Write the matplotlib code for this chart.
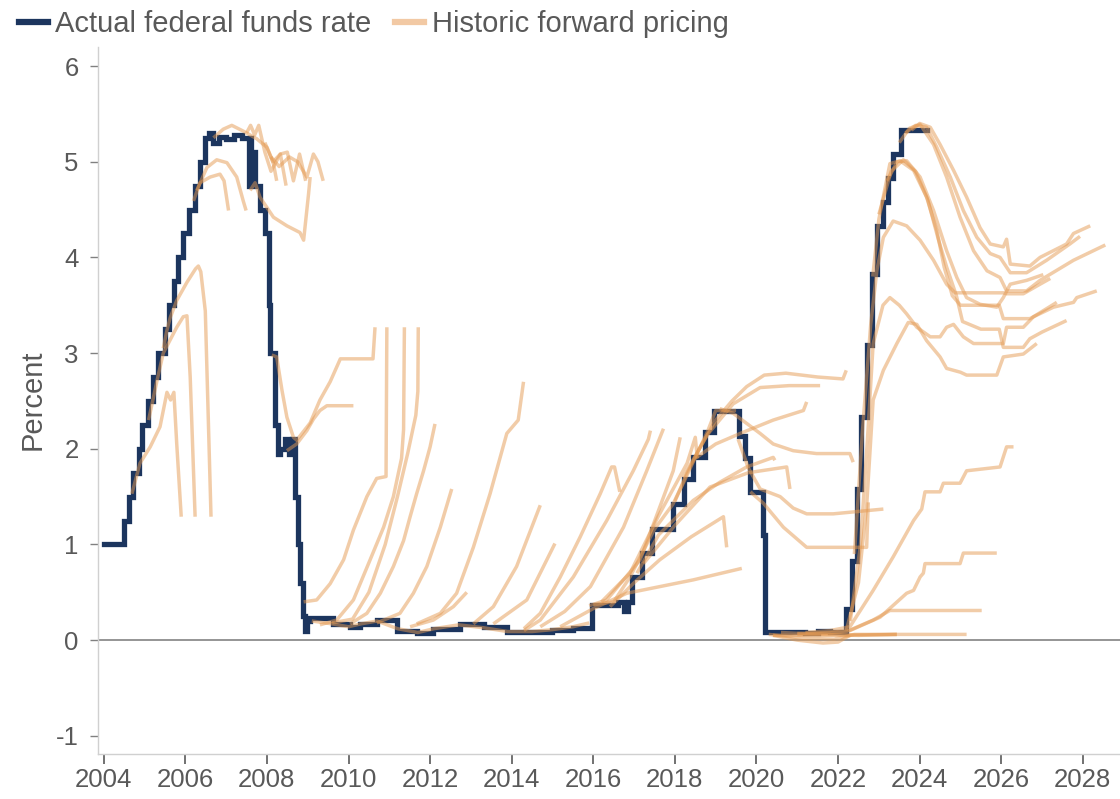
import matplotlib
matplotlib.use("Agg")
import matplotlib.pyplot as plt
from matplotlib.lines import Line2D

plt.rcParams['font.family'] = ['Liberation Sans', 'DejaVu Sans']

# ---------------- data ----------------
# Actual (effective) federal funds rate, decimal year -> percent (step series)
fed_dates = [2004.0, 2004.49, 2004.61, 2004.72, 2004.86, 2004.95, 2005.09, 2005.22, 2005.34,
             2005.49, 2005.61, 2005.72, 2005.83, 2005.95, 2006.08, 2006.24, 2006.36, 2006.49,
             2006.58, 2006.68, 2006.82, 2007.0, 2007.2, 2007.4, 2007.55, 2007.58, 2007.62,
             2007.66, 2007.71, 2007.83, 2007.95, 2008.06, 2008.08, 2008.21, 2008.26, 2008.33,
             2008.45, 2008.55, 2008.62, 2008.70, 2008.76, 2008.82, 2008.88, 2008.94, 2008.98,
             2009.06, 2009.63, 2010.04, 2010.28, 2010.69, 2011.18, 2011.67, 2012.08, 2012.74,
             2013.31, 2013.88, 2014.53, 2015.0, 2015.5, 2015.96, 2016.6, 2016.75, 2016.85,
             2016.95, 2017.2, 2017.45, 2017.95, 2018.22, 2018.45, 2018.74, 2018.97, 2019.58,
             2019.72, 2019.83, 2020.17, 2020.21, 2020.5, 2020.9, 2021.2, 2021.5, 2021.8,
             2022.19, 2022.34, 2022.46, 2022.57, 2022.72, 2022.84, 2022.95, 2023.09, 2023.22,
             2023.34, 2023.55, 2024.19]
fed_rates = [1.00, 1.25, 1.50, 1.75, 2.00, 2.25, 2.50, 2.75, 3.00,
             3.25, 3.50, 3.75, 4.00, 4.25, 4.50, 4.75, 5.00, 5.25,
             5.30, 5.20, 5.26, 5.24, 5.28, 5.25, 4.75, 5.25, 4.90,
             5.10, 4.75, 4.50, 4.25, 3.50, 3.00, 2.25, 1.95, 2.00,
             2.10, 1.95, 2.10, 1.50, 1.00, 0.60, 0.25, 0.10, 0.20,
             0.23, 0.17, 0.14, 0.17, 0.21, 0.10, 0.07, 0.12, 0.17,
             0.14, 0.09, 0.09, 0.11, 0.13, 0.37, 0.40, 0.30, 0.40,
             0.66, 0.91, 1.16, 1.42, 1.68, 1.91, 2.18, 2.40, 2.13,
             1.90, 1.55, 1.10, 0.08, 0.09, 0.09, 0.07, 0.10, 0.08,
             0.33, 0.83, 1.58, 2.33, 3.08, 3.83, 4.33, 4.58, 4.83,
             5.08, 5.33, 5.33]

# Historic forward-pricing curves (decimal year, percent)
fwd_2004 = [(2004.69, 1.53), (2004.89, 1.85), (2005.14, 2.02), (2005.38, 2.23), (2005.55, 2.59),
            (2005.64, 2.51), (2005.72, 2.59), (2005.79, 2.05), (2005.90, 1.29)]
fwd_2005a = [(2005.10, 2.30), (2005.30, 2.70), (2005.46, 3.00), (2005.79, 3.27), (2005.95, 3.38),
             (2006.04, 3.39), (2006.12, 2.75), (2006.24, 1.29)]
fwd_2005b = [(2005.46, 3.05), (2005.55, 3.24), (2005.63, 3.37), (2005.79, 3.55), (2006.04, 3.74),
             (2006.25, 3.88), (2006.32, 3.91), (2006.38, 3.85), (2006.49, 3.44), (2006.63, 1.29)]
fwd_2006a = [(2006.20, 4.59), (2006.36, 4.78), (2006.61, 4.84), (2006.85, 4.87), (2006.95, 4.80),
             (2007.06, 4.49)]
fwd_2006b = [(2006.28, 4.70), (2006.53, 4.94), (2006.77, 5.02), (2007.02, 4.99), (2007.26, 4.84),
             (2007.42, 4.59), (2007.49, 4.49)]
fwd_2006c = [(2006.69, 5.25), (2006.93, 5.34), (2007.14, 5.38), (2007.42, 5.32), (2007.75, 5.24),
             (2008.00, 5.15), (2008.16, 4.98), (2008.24, 4.80)]
fwd_2007a = [(2007.50, 5.30), (2007.60, 5.38), (2007.70, 5.28), (2007.80, 5.38), (2007.95, 5.10),
             (2008.10, 4.90), (2008.33, 5.08), (2008.47, 4.75)]
fwd_2007b = [(2007.95, 5.20), (2008.15, 5.00), (2008.33, 5.08), (2008.50, 5.10), (2008.65, 4.80),
             (2008.80, 5.08), (2008.95, 4.80)]
fwd_2007c = [(2008.10, 5.05), (2008.30, 4.95), (2008.55, 5.05), (2008.75, 5.00), (2008.98, 4.84),
             (2009.14, 5.08), (2009.25, 5.00), (2009.38, 4.80)]
fwd_2007d = [(2007.59, 4.70), (2007.71, 4.78), (2007.83, 4.63), (2008.16, 4.42), (2008.49, 4.33),
             (2008.81, 4.26), (2008.90, 4.18), (2009.02, 4.66), (2009.06, 4.84)]
fwd_2008a = [(2008.12, 2.98), (2008.24, 2.96), (2008.37, 2.61), (2008.49, 2.33), (2008.65, 2.12),
             (2008.73, 2.09), (2009.06, 2.27), (2009.30, 2.51), (2009.55, 2.70), (2009.80, 2.94),
             (2010.60, 2.94), (2010.65, 3.27)]
fwd_2008b = [(2008.49, 1.98), (2008.73, 2.05), (2008.98, 2.19), (2009.14, 2.31), (2009.30, 2.40),
             (2009.47, 2.45), (2010.12, 2.45)]
fwd_2008c = [(2008.90, 0.40), (2009.22, 0.42), (2009.55, 0.59), (2009.88, 0.84), (2010.12, 1.15),
             (2010.45, 1.50), (2010.69, 1.69), (2010.92, 1.71), (2010.94, 3.27)]
fwd_2009a = [(2009.30, 0.16), (2009.71, 0.21), (2010.12, 0.42), (2010.53, 0.84), (2010.86, 1.18),
             (2011.10, 1.50), (2011.30, 1.90), (2011.35, 2.20), (2011.37, 3.27)]
fwd_2009b = [(2009.60, 0.18), (2010.10, 0.22), (2010.50, 0.50), (2010.90, 1.00), (2011.20, 1.50),
             (2011.45, 1.95), (2011.65, 2.35), (2011.70, 2.60), (2011.71, 3.27)]
fwd_2009c = [(2009.10, 0.20), (2009.60, 0.17), (2010.00, 0.14), (2010.30, 0.17), (2010.70, 0.20),
             (2011.20, 0.12), (2011.70, 0.08), (2012.10, 0.12), (2012.70, 0.16), (2013.30, 0.13),
             (2013.90, 0.09), (2014.50, 0.09), (2015.00, 0.11), (2015.50, 0.14), (2015.90, 0.18)]
fwd_2010a = [(2010.04, 0.17), (2010.45, 0.28), (2010.78, 0.49), (2011.10, 0.77), (2011.35, 1.04),
             (2011.51, 1.29), (2011.67, 1.53), (2011.84, 1.77), (2012.00, 2.02), (2012.12, 2.26)]
fwd_2010b = [(2010.69, 0.18), (2011.26, 0.28), (2011.59, 0.49), (2011.92, 0.77), (2012.25, 1.18),
             (2012.53, 1.58)]
fwd_2011a = [(2011.51, 0.14), (2012.08, 0.21), (2012.57, 0.35), (2012.90, 0.50)]
fwd_2011b = [(2011.67, 0.17), (2012.25, 0.28), (2012.65, 0.49), (2013.06, 0.97), (2013.47, 1.53),
             (2013.88, 2.16), (2014.16, 2.30), (2014.29, 2.70)]
fwd_2013a = [(2013.06, 0.17), (2013.55, 0.35), (2014.12, 0.77), (2014.70, 1.41)]
fwd_2013b = [(2013.55, 0.17), (2014.37, 0.42), (2015.06, 1.01)]
fwd_2014a = [(2014.30, 0.12), (2014.70, 0.28), (2015.19, 0.66), (2015.68, 1.08), (2016.17, 1.53),
             (2016.45, 1.81), (2016.52, 1.81), (2016.65, 1.55)]
fwd_2014b = [(2014.30, 0.10), (2014.70, 0.21), (2015.51, 0.66), (2016.33, 1.25), (2016.98, 1.77),
             (2017.35, 2.10), (2017.40, 2.19)]
fwd_2014c = [(2014.70, 0.14), (2015.30, 0.30), (2015.93, 0.56), (2016.74, 1.18), (2017.31, 1.77),
             (2017.72, 2.21)]
fwd_2015a = [(2015.19, 0.14), (2016.00, 0.33), (2016.82, 0.49), (2018.45, 0.63), (2019.64, 0.75)]
fwd_2015b = [(2015.90, 0.36), (2016.33, 0.42), (2017.15, 0.84), (2017.96, 1.77), (2018.13, 2.12)]
fwd_2016a = [(2016.20, 0.40), (2016.90, 0.70), (2017.60, 1.30), (2018.30, 1.85), (2018.50, 2.12),
             (2018.55, 1.90)]
fwd_2016b = [(2016.41, 0.35), (2017.00, 0.60), (2017.63, 0.84), (2018.40, 1.08), (2019.19, 1.29),
             (2019.27, 0.97)]
fwd_2016c = [(2016.00, 0.37), (2016.50, 0.40), (2016.90, 0.66), (2017.20, 0.91), (2017.50, 1.16),
             (2017.95, 1.42), (2018.25, 1.68), (2018.50, 1.91), (2018.80, 2.18), (2019.00, 2.40),
             (2019.50, 2.40)]
fwd_2017a = [(2017.07, 0.70), (2017.60, 1.10), (2018.45, 1.46), (2019.10, 1.65), (2019.76, 1.81),
             (2020.41, 1.91), (2020.45, 1.88)]
fwd_2017b = [(2017.23, 0.80), (2018.00, 1.20), (2018.86, 1.60), (2019.80, 1.75), (2020.74, 1.81),
             (2020.82, 1.58)]
fwd_2018a = [(2018.00, 1.45), (2018.30, 1.75), (2018.60, 2.00), (2019.00, 2.30), (2019.40, 2.50),
             (2019.76, 2.65), (2020.19, 2.77), (2020.72, 2.79), (2021.50, 2.75), (2022.12, 2.73),
             (2022.20, 2.82)]
fwd_2018b = [(2018.20, 1.70), (2018.80, 2.15), (2019.43, 2.47), (2020.09, 2.64), (2020.80, 2.66),
             (2021.56, 2.66)]
fwd_2018c = [(2018.50, 1.90), (2019.00, 2.05), (2019.60, 2.16), (2020.41, 2.30), (2021.15, 2.40),
             (2021.23, 2.49)]
fwd_2019a = [(2019.10, 2.42), (2019.43, 2.37), (2020.09, 2.16), (2020.41, 2.05), (2020.90, 1.98),
             (2021.47, 1.95), (2022.29, 1.95), (2022.37, 1.86)]
fwd_2019b = [(2019.55, 2.10), (2019.80, 1.80), (2020.09, 1.58), (2020.58, 1.50), (2020.90, 1.38),
             (2021.23, 1.32), (2021.88, 1.32), (2023.11, 1.37)]
fwd_2019c = [(2019.85, 1.55), (2020.17, 1.43), (2020.66, 1.18), (2021.23, 0.97), (2022.05, 0.97),
             (2022.70, 0.97), (2022.74, 1.44)]
fwd_2020a = [(2020.41, 0.05), (2021.00, 0.00), (2021.63, -0.03), (2022.00, -0.02), (2022.29, 0.05)]
fwd_2020b = [(2020.40, 0.05), (2021.50, 0.05), (2023.44, 0.06), (2025.15, 0.06)]
fwd_2020c = [(2020.60, 0.08), (2021.50, 0.06), (2022.50, 0.05), (2023.44, 0.06)]
fwd_2020d = [(2020.30, 0.06), (2021.20, 0.02), (2021.90, 0.01), (2022.40, 0.06), (2023.44, 0.06)]
fwd_2021a = [(2021.00, 0.06), (2021.80, 0.07), (2022.21, 0.09), (2022.86, 0.21), (2023.27, 0.31),
             (2025.52, 0.31)]
fwd_2021b = [(2021.00, 0.07), (2021.80, 0.08), (2022.29, 0.10), (2023.03, 0.24), (2023.68, 0.49),
             (2023.85, 0.52), (2024.01, 0.66), (2024.09, 0.70), (2024.13, 0.80), (2024.99, 0.80),
             (2025.07, 0.91), (2025.89, 0.91)]
fwd_2021c = [(2021.20, 0.08), (2021.80, 0.10), (2022.29, 0.14), (2022.86, 0.52), (2023.35, 0.87),
             (2023.85, 1.25), (2024.05, 1.37), (2024.13, 1.55), (2024.50, 1.55), (2024.58, 1.64),
             (2024.99, 1.64), (2025.15, 1.77), (2025.97, 1.81), (2026.13, 2.02), (2026.30, 2.02)]
fwd_2022a = [(2022.20, 0.10), (2022.50, 0.60), (2022.70, 1.40), (2022.86, 2.51), (2023.11, 2.82),
             (2023.44, 3.10), (2023.72, 3.32), (2023.93, 3.30), (2024.17, 3.13), (2024.50, 2.96),
             (2024.66, 2.84), (2025.00, 2.80), (2025.15, 2.77), (2025.89, 2.77), (2026.05, 2.96),
             (2026.54, 2.99), (2026.87, 3.10)]
fwd_2022b = [(2022.30, 0.20), (2022.55, 1.00), (2022.72, 2.10), (2022.86, 3.10), (2023.10, 3.50),
             (2023.27, 3.58), (2023.50, 3.50), (2023.68, 3.41), (2023.93, 3.27), (2024.26, 3.17),
             (2024.50, 3.17), (2024.66, 3.27), (2024.83, 3.30), (2025.07, 3.17), (2025.32, 3.10),
             (2026.05, 3.10), (2026.13, 3.27), (2026.54, 3.27), (2026.79, 3.38), (2027.36, 3.53)]
fwd_2022c = [(2022.40, 0.90), (2022.60, 2.20), (2022.80, 3.30), (2022.95, 3.86), (2023.11, 4.21),
             (2023.35, 4.38), (2023.68, 4.33), (2024.01, 4.18), (2024.34, 3.97), (2024.66, 3.72),
             (2024.87, 3.63), (2026.05, 3.63), (2026.13, 3.62), (2026.54, 3.62), (2026.95, 3.72),
             (2027.20, 3.78)]
fwd_2022d = [(2022.85, 3.80), (2023.00, 4.40), (2023.27, 4.98), (2023.52, 5.01), (2023.85, 4.91),
             (2024.17, 4.63), (2024.42, 4.28), (2024.60, 3.90), (2024.80, 3.60), (2025.00, 3.50),
             (2025.95, 3.50), (2026.05, 3.36), (2026.70, 3.36), (2026.79, 3.38), (2027.28, 3.48),
             (2027.77, 3.53), (2027.85, 3.58), (2028.34, 3.65)]
fwd_2023a = [(2023.00, 4.45), (2023.30, 4.90), (2023.60, 5.02), (2023.90, 4.90), (2024.20, 4.60),
             (2024.45, 4.20), (2024.66, 3.90), (2024.90, 3.60), (2025.05, 3.33), (2025.50, 3.25),
             (2025.95, 3.25), (2026.05, 3.06), (2026.54, 3.06), (2026.70, 3.15), (2027.00, 3.22),
             (2027.60, 3.34)]
fwd_2023b = [(2023.20, 4.80), (2023.45, 5.00), (2023.68, 5.01), (2024.01, 4.84), (2024.34, 4.49),
             (2024.66, 4.07), (2024.91, 3.79), (2025.15, 3.58), (2025.48, 3.51), (2025.89, 3.48),
             (2026.05, 3.58), (2026.22, 3.72), (2026.62, 3.76), (2027.03, 3.82)]
fwd_2023c = [(2023.50, 5.20), (2023.75, 5.35), (2024.01, 5.39), (2024.34, 5.18), (2024.66, 4.84),
             (2024.99, 4.42), (2025.32, 4.07), (2025.65, 3.86), (2025.97, 3.79), (2026.13, 3.65),
             (2026.62, 3.65), (2026.95, 3.76), (2027.77, 3.97), (2028.55, 4.13)]
fwd_2023d = [(2023.65, 5.30), (2023.90, 5.38), (2024.17, 5.36), (2024.42, 5.15), (2024.75, 4.84),
             (2025.07, 4.49), (2025.40, 4.21), (2025.73, 4.04), (2025.97, 4.00), (2026.22, 3.84),
             (2026.62, 3.84), (2027.11, 3.97), (2027.68, 4.14), (2027.93, 4.22)]
fwd_2023e = [(2023.80, 5.33), (2024.00, 5.40), (2024.26, 5.36), (2024.50, 5.18), (2024.83, 4.91),
             (2025.15, 4.63), (2025.48, 4.31), (2025.73, 4.14), (2026.05, 4.11), (2026.13, 4.19),
             (2026.22, 3.93), (2026.70, 3.91), (2026.95, 4.00), (2027.60, 4.14), (2027.77, 4.25),
             (2028.18, 4.33)]

forward_curves = [fwd_2004, fwd_2005a, fwd_2005b, fwd_2006a, fwd_2006b, fwd_2006c,
                  fwd_2007a, fwd_2007b, fwd_2007c, fwd_2007d, fwd_2008a, fwd_2008b, fwd_2008c,
                  fwd_2009a, fwd_2009b, fwd_2009c, fwd_2010a, fwd_2010b, fwd_2011a, fwd_2011b,
                  fwd_2013a, fwd_2013b, fwd_2014a, fwd_2014b, fwd_2014c, fwd_2015a, fwd_2015b,
                  fwd_2016a, fwd_2016b, fwd_2016c, fwd_2017a, fwd_2017b, fwd_2018a, fwd_2018b,
                  fwd_2018c, fwd_2019a, fwd_2019b, fwd_2019c, fwd_2020a, fwd_2020b, fwd_2020c,
                  fwd_2020d, fwd_2021a, fwd_2021b, fwd_2021c, fwd_2022a, fwd_2022b, fwd_2022c,
                  fwd_2022d, fwd_2023a, fwd_2023b, fwd_2023c, fwd_2023d, fwd_2023e]

x_ticks = [2004, 2006, 2008, 2010, 2012, 2014, 2016, 2018, 2020, 2022, 2024, 2026, 2028]
y_ticks = [-1, 0, 1, 2, 3, 4, 5, 6]

# ---------------- style ----------------
NAVY = '#1c355e'
TAN = '#e59a52'
TEXT = '#595959'

fig = plt.figure(figsize=(11.2, 7.99), dpi=100)
ax = fig.add_axes([0.0875, 0.0563, 0.9125, 0.885])

ax.axhline(0, color='#8c8c8c', lw=1.3, zorder=1)
ax.plot(fed_dates, fed_rates, drawstyle='steps-post', color=NAVY, lw=3.8, zorder=2,
        solid_joinstyle='miter')
for curve in forward_curves:
    xs = [p[0] for p in curve]
    ys = [p[1] for p in curve]
    ax.plot(xs, ys, color=TAN, alpha=0.5, lw=2.5, zorder=3, solid_capstyle='butt')

ax.set_xlim(2003.86, 2028.91)
ax.set_ylim(-1.19, 6.2)
ax.set_xticks(x_ticks)
ax.set_xticklabels([str(t) for t in x_ticks])
ax.set_yticks(y_ticks)
ax.set_yticklabels([str(t) for t in y_ticks])

for side in ('top', 'right'):
    ax.spines[side].set_visible(False)
ax.spines['left'].set_color('#d0d0d0')
ax.spines['bottom'].set_color('#d0d0d0')
ax.spines['left'].set_linewidth(1.0)
ax.spines['bottom'].set_linewidth(1.0)

ax.tick_params(axis='y', length=6, width=1, color='#808080', labelcolor=TEXT,
               labelsize=18.5, pad=8)
ax.tick_params(axis='x', length=7, width=1.2, color='#595959', labelcolor=TEXT,
               labelsize=18.5, pad=3)

fig.text(33 / 1120, 1 - 400 / 799, 'Percent', rotation=90, ha='center', va='center',
         fontsize=21, color=TEXT)

handles = [Line2D([], [], color=NAVY, lw=4.5),
           Line2D([], [], color='#f2c9a4', lw=4.5)]
fig.legend(handles, ['Actual federal funds rate', 'Historic forward pricing'],
           loc='center left', bbox_to_anchor=(0.017, 0.970), ncol=2, frameon=False,
           fontsize=21, handlelength=1.0, handletextpad=0.25, columnspacing=0.8,
           borderpad=0, borderaxespad=0, labelcolor=TEXT)

fig.savefig('out.png', dpi=100, facecolor='white')
